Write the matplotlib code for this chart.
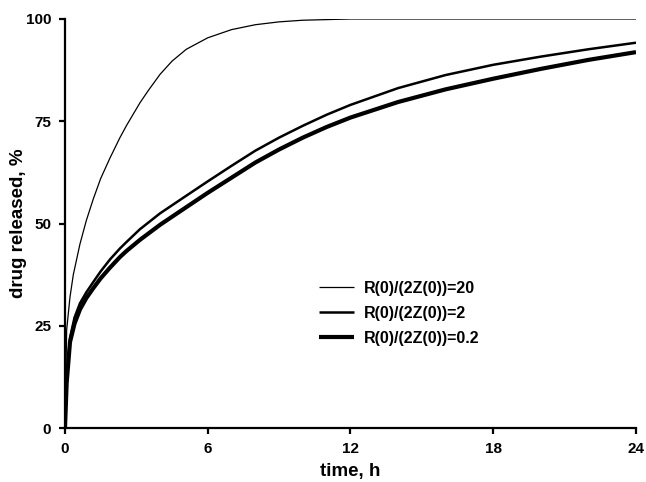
import matplotlib
matplotlib.use("Agg")
import matplotlib.pyplot as plt

plt.rcParams['font.family'] = ['Liberation Sans', 'DejaVu Sans']
plt.rcParams['font.weight'] = 'bold'

# time, h
t_20 = [0, 0.07, 0.21, 0.35, 0.63, 0.9, 1.19, 1.5, 1.89, 2.31, 2.59, 3.15, 3.5, 4, 4.5, 5.1, 6, 7, 8, 9, 10, 12, 14, 18, 24]
rel_20 = [0, 24, 32, 37.5, 45, 50.8, 56, 61, 66, 71, 74, 79.5, 82.5, 86.5, 89.7, 92.6, 95.4, 97.4, 98.6, 99.3, 99.7,
          100, 100, 100, 100]

t = [0, 0.07, 0.21, 0.4, 0.63, 0.9, 1.19, 1.5, 1.89, 2.31, 2.59, 3.15, 4, 5.1, 6, 7, 8, 9, 10, 11, 12, 14, 16, 18, 20,
     22, 24]
# drug released, %
rel_2 = [0, 12, 22, 27, 30.5, 33.2, 35.7, 38.3, 41.2, 43.9, 45.5, 48.6, 52.5, 56.8, 60.3, 64.1, 67.8, 71, 73.9, 76.6,
         79, 83.1, 86.3, 88.8, 90.8, 92.6, 94.2]
rel_02 = [0, 11, 21, 25.5, 29, 31.8, 34.2, 36.6, 39.2, 41.8, 43.3, 46, 49.7, 54, 57.5, 61.2, 64.9, 68.1, 71, 73.6,
          75.9, 79.7, 82.8, 85.4, 87.8, 90, 91.9]

labels = ['R(0)/(2Z(0))=20', 'R(0)/(2Z(0))=2', 'R(0)/(2Z(0))=0.2']
widths = [0.9, 1.8, 3.0]

fig = plt.figure(figsize=(6.46, 4.82), dpi=100)
ax = fig.add_axes([0.1006, 0.112, 0.8839, 0.8486])

for xs, y, lab, lw in zip([t_20, t, t], [rel_20, rel_2, rel_02], labels, widths):
    ax.plot(xs, y, color='black', lw=lw, label=lab, solid_capstyle='butt', solid_joinstyle='round')

ax.set_xlim(0, 24)
ax.set_ylim(0, 100)
ax.set_xticks([0, 6, 12, 18, 24])
ax.set_yticks([0, 25, 50, 75, 100])
for s in ['top', 'right']:
    ax.spines[s].set_visible(False)
for s in ['left', 'bottom']:
    ax.spines[s].set_linewidth(1.6)
ax.tick_params(direction='out', length=4, width=1.6, labelsize=11, pad=6)
ax.set_xlabel('time, h', fontsize=13.5, fontweight='bold', labelpad=5)
ax.set_ylabel('drug released, %', fontsize=13.5, fontweight='bold', labelpad=-1)

leg = ax.legend(loc='center left', bbox_to_anchor=(0.42, 0.28), frameon=False,
                fontsize=11.5, handlelength=2.2, labelspacing=0.62, handletextpad=0.6)
for txt in leg.get_texts():
    txt.set_fontweight('bold')

fig.savefig('out.png', dpi=100)
